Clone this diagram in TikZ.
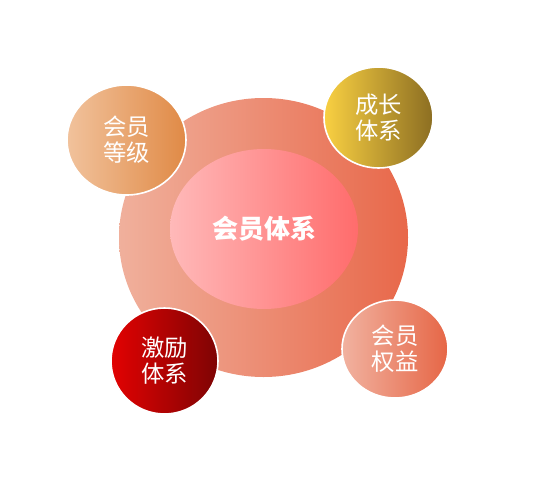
\documentclass[tikz,border=0pt]{standalone}
\usepackage{fontspec}
\setmainfont{Noto Sans CJK SC}
\usetikzlibrary{shapes.geometric}
\definecolor{bigL}{HTML}{F0B09C}
\definecolor{bigR}{HTML}{E8684A}
\definecolor{inL}{HTML}{FFB9B9}
\definecolor{inR}{HTML}{FF6C6C}
\definecolor{tlL}{HTML}{F1C29C}
\definecolor{tlR}{HTML}{E08A46}
\definecolor{trL}{HTML}{F9D042}
\definecolor{trR}{HTML}{8C6E22}
\definecolor{blL}{HTML}{E20202}
\definecolor{blR}{HTML}{7E0404}
\definecolor{brL}{HTML}{F1B2A0}
\definecolor{brR}{HTML}{E66646}
\tikzset{
  blob/.style={ellipse, inner sep=0pt, text=white, align=center,
    font=\fontsize{17.5}{19.5}\selectfont},
  sat/.style={blob, draw=white, line width=1.2pt},
}
\begin{document}
\begin{tikzpicture}[x=0.75pt,y=-0.75pt]
\useasboundingbox (0,0) rectangle (541,485);
\node[blob, minimum width=289*0.75, minimum height=279*0.75, left color=bigL, right color=bigR] (big) at (263.5,237.5) {};
\node[blob, minimum width=188*0.75, minimum height=160*0.75, left color=inL, right color=inR,
  font=\fontsize{19.5}{22}\selectfont\bfseries] (core) at (264,229) {会员体系};
\node[sat, minimum width=119*0.75, minimum height=110*0.75, left color=tlL, right color=tlR] (tl) at (126.5,140) {会员\\等级};
\node[sat, minimum width=109*0.75, minimum height=101*0.75, left color=trL, right color=trR] (tr) at (378.5,117.5) {成长\\体系};
\node[sat, minimum width=107*0.75, minimum height=106*0.75, left color=blL, right color=blR] (bl) at (164.5,361) {激励\\体系};
\node[sat, minimum width=106*0.75, minimum height=98*0.75, left color=brL, right color=brR] (br) at (395,349) {会员\\权益};
\end{tikzpicture}
\end{document}
